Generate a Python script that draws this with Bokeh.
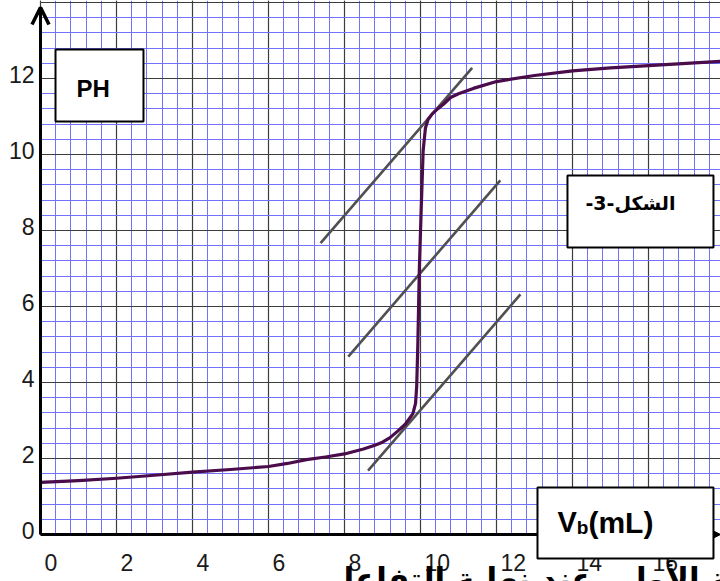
from bokeh.plotting import figure
from bokeh.core.properties import value
from bokeh.models import (Range1d, SingleIntervalTicker, Grid, BoxAnnotation,
                          Label, LabelSet, ColumnDataSource, Arrow, OpenHead, NormalHead)
from bokeh.embed import file_html
from bokeh.resources import INLINE

# ---- data ----
volume_ml = [0, 1, 2, 3, 4, 5, 6, 6.5, 7, 7.5, 8, 8.5, 8.8, 9.0, 9.2, 9.4, 9.6, 9.8,
             9.87, 9.9, 9.93, 9.97, 10.02, 10.07, 10.13, 10.2, 10.31, 10.45, 10.61,
             10.79, 11.0, 11.39, 12, 13, 14, 15, 16, 17, 17.9]
ph_values = [1.37, 1.42, 1.48, 1.56, 1.64, 1.71, 1.79, 1.87, 1.97, 2.04, 2.12, 2.25,
             2.35, 2.43, 2.55, 2.72, 2.9, 3.18, 3.45, 3.9, 5.0, 7.0, 8.6, 10.1, 10.7,
             10.92, 11.07, 11.2, 11.33, 11.5, 11.6, 11.74, 11.92, 12.08, 12.2, 12.28,
             12.34, 12.4, 12.45]

tangent_x0 = [7.37, 8.10, 8.62]
tangent_y0 = [7.67, 4.68, 1.68]
tangent_x1 = [11.36, 12.10, 12.63]
tangent_y1 = [12.28, 9.32, 6.32]

x_ticks = [0, 2, 4, 6, 8, 10, 12, 14, 16]
x_tick_labels = ["0", "2", "4", "6", "8", "10", "12", "14", "16"]
y_ticks = [0, 2, 4, 6, 8, 10, 12]
y_tick_labels = ["0", "2", "4", "6", "8", "10", "12"]

y_title = "PH"
x_title_main = "V"
x_title_sub = "b"
x_title_unit = "(mL)"
figure_title = "-3-الشكل"
footer_text = "التجربة الأولى عند نهاية التفاعل"

# visible window of the graph paper (mL, pH)
X_START, X_END = -1.0526, 17.895
Y_START, Y_END = -1.2368, 14.053
Y_ARROW = 13.87

p = figure(width=720, height=581, x_range=Range1d(X_START, X_END),
           y_range=Range1d(Y_START, Y_END), output_backend="svg", toolbar_location=None,
           x_axis_location=None, y_axis_location=None,
           min_border=0, min_border_left=0, min_border_right=0,
           min_border_top=0, min_border_bottom=0)
p.outline_line_color = None
p.background_fill_color = "white"
p.border_fill_color = "white"
for g in list(p.grid):
    g.visible = False

# graph-paper grid limited to the first quadrant
xg = Grid(dimension=0, ticker=SingleIntervalTicker(interval=2, num_minor_ticks=5),
          bounds=(0, X_END), cross_bounds=(0, Y_END))
yg = Grid(dimension=1, ticker=SingleIntervalTicker(interval=2, num_minor_ticks=5),
          bounds=(0, Y_END), cross_bounds=(0, X_END))
for g in (xg, yg):
    g.grid_line_color = "#3c3c3c"
    g.grid_line_width = 1.2
    g.minor_grid_line_color = "#7272ff"
    g.minor_grid_line_width = 1
    p.add_layout(g)

# curve and tangents
p.segment(x0=tangent_x0, y0=tangent_y0, x1=tangent_x1, y1=tangent_y1,
          line_color="#505050", line_width=2.6)
p.line(volume_ml, ph_values, line_color="#4a0c4a", line_width=3.2, line_join="round")

# axes with arrows
p.add_layout(Arrow(end=OpenHead(size=17, line_width=3.5, line_color="black"),
                   x_start=0, y_start=0, x_end=0, y_end=Y_ARROW,
                   line_width=3, line_color="black"))
p.add_layout(Arrow(end=NormalHead(size=10, fill_color="black", line_color="black"),
                   x_start=0, y_start=0, x_end=X_END, y_end=0,
                   line_width=3, line_color="black"))

# tick labels
tick_style = dict(text_font=value("Liberation Sans"), text_font_size=value("23px"),
                  text_color=value("#1a1a1a"), text_baseline=value("alphabetic"))
ysrc = ColumnDataSource(dict(x=[0] * len(y_ticks), y=y_ticks, text=y_tick_labels))
p.add_layout(LabelSet(x="x", y="y", text="text", source=ysrc, x_offset=-6, y_offset=-4,
                      text_align=value("right"), **tick_style))
xsrc = ColumnDataSource(dict(x=x_ticks, y=[0] * len(x_ticks), text=x_tick_labels))
p.add_layout(LabelSet(x="x", y="y", text="text", source=xsrc, x_offset=4, y_offset=-36,
                      text_align=value("left"), **tick_style))

# footer text (cut off at the bottom of the picture, as in the reference)
p.add_layout(Label(x=7.553, y=-1.16, text=footer_text, text_align="left",
                   text_baseline="alphabetic", text_font="DejaVu Sans",
                   text_font_style="bold", text_font_size="31px", text_color="black"))

# boxes
box_style = dict(fill_color="white", fill_alpha=1, line_color="black", line_width=2,
                 line_alpha=1)
p.add_layout(BoxAnnotation(left=0.395, right=2.71, top=12.763, bottom=10.868, **box_style))
p.add_layout(BoxAnnotation(left=13.868, right=17.71, top=9.447, bottom=7.553, **box_style))
p.add_layout(BoxAnnotation(left=13.079, right=17.71, top=1.237, bottom=-0.632, **box_style))

bold = dict(text_font="Liberation Sans", text_font_style="bold", text_color="black",
            text_baseline="alphabetic", text_align="left")
p.add_layout(Label(x=0.947, y=11.74, text=y_title, text_font_size="24px", **bold))
p.add_layout(Label(x=13.605, y=0.316, text=x_title_main, text_font_size="29px", **bold))
p.add_layout(Label(x=14.11, y=0.184, text=x_title_sub, text_font_size="19px", **bold))
p.add_layout(Label(x=14.42, y=0.316, text=x_title_unit, text_font_size="30px", **bold))
p.add_layout(Label(x=15.526, y=8.737, text=figure_title, text_align="center",
                   text_baseline="middle", text_font="DejaVu Sans", text_font_style="bold",
                   text_font_size="19px", text_color="black"))

open("out.html", "w").write(file_html(p, INLINE))
